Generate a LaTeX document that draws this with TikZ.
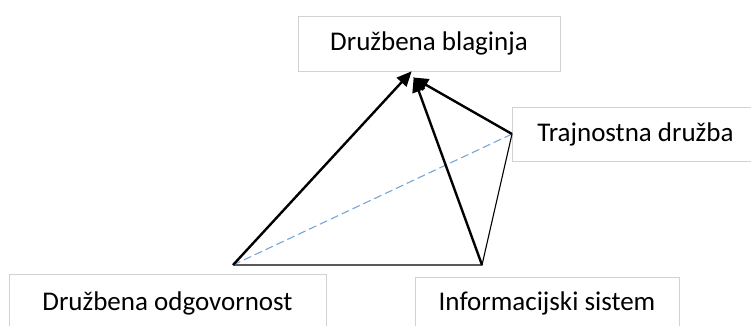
\documentclass[tikz,border=0pt]{standalone}
\usepackage{fontspec}
\setmainfont{Carlito}
\usetikzlibrary{arrows.meta}
\definecolor{boxline}{RGB}{210,210,210}
\definecolor{dashblue}{RGB}{120,165,215}
\begin{document}
\begin{tikzpicture}[x=1pt,y=-1pt,
  box/.style={draw=boxline,line width=0.9pt,fill=white,inner sep=0pt,font=\fontsize{27}{31}\selectfont,text=black},
  thickarrow/.style={line width=2.4pt,-{Triangle[length=15pt,width=13pt]},shorten >=-1pt},
  thinline/.style={line width=1.1pt},
  blueline/.style={dashblue,line width=1.1pt,dash pattern=on 8pt off 4pt}]
\useasboundingbox (0,0) rectangle (751,325);
\fill[white] (0,0) rectangle (751,325);
\node[box,minimum width=262pt,minimum height=55pt] (blag) at (429,43.5) {Družbena blaginja};
\node[box,minimum width=246pt,minimum height=54pt,anchor=west] (traj) at (512,134) {Trajnostna družba};
\node[box,minimum width=317pt,minimum height=58pt] (odg) at (167.5,303) {Družbena odgovornost};
\node[box,minimum width=264pt,minimum height=52pt] (inf) at (547,303) {Informacijski sistem};
\coordinate (L) at (233,265);
\coordinate (R) at (482,265);
\coordinate (T1) at (411,72);
\coordinate (T2) at (414,78);
\draw[thinline] (L) -- (R) -- (traj.west);
\draw[blueline] (L) -- (traj.west);
\draw[thickarrow] (L) -- (T1);
\draw[thickarrow] (R) -- (T2);
\draw[thickarrow] (traj.west) -- (T2);
\end{tikzpicture}
\end{document}
